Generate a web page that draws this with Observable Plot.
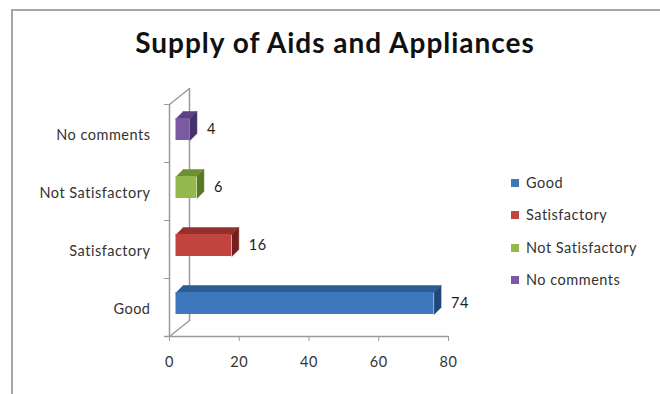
<!DOCTYPE html>
<html>
<head>
<meta charset="utf-8">
<script src="https://cdn.jsdelivr.net/npm/d3@7"></script>
<script src="https://cdn.jsdelivr.net/npm/@observablehq/plot@0.6"></script>
<style>
  html, body { margin: 0; padding: 0; background: #fff; }
  #wrap { position: relative; width: 660px; height: 394px; overflow: hidden; font-family: Lato, "Open Sans", sans-serif; }
  #frame { position: absolute; left: 11px; top: 9px; width: 660px; height: 400px; border-left: 2px solid #a6a6a6; border-top: 2px solid #a6a6a6; }
  #title { position: absolute; left: 0; width: 670px; top: 25px; text-align: center; font-weight: bold; font-size: 28px; letter-spacing: 1px; color: #111; }
  #chart { position: absolute; left: 0; top: 0; }
  #legend { position: absolute; left: 511px; top: 174px; font-size: 14.5px; letter-spacing: 0.5px; color: #333; }
  .item { position: absolute; left: 0; white-space: nowrap; height: 18px; line-height: 18px; }
  .sw { display: inline-block; width: 8px; height: 8px; margin-right: 7px; vertical-align: 1px; }
</style>
</head>
<body>
<div id="wrap">
  <div id="frame"></div>
  <div id="title"></div>
  <div id="chart"></div>
  <div id="legend"></div>
</div>
<script>
const title = "Supply of Aids and Appliances";
const categories = ["Good", "Satisfactory", "Not Satisfactory", "No comments"];
const values = [74, 16, 6, 4];
const frontColors = ["#3F77BD", "#C2443F", "#93B84B", "#7A5AA0"];
const topColors = ["#2C5C93", "#96302D", "#6F8F33", "#5C4282"];
const sideColors = ["#1D4877", "#72201E", "#587826", "#46316A"];
const xTicks = [0, 20, 40, 60, 80];

// layout (pixels)
const W = 660, H = 394;
const mL = 169, mR = 212, mT = 104, mB = 58;
const pxPerX = (W - mL - mR) / 80;
const pxPerY = (H - mT - mB) / categories.length;
const toX = px => px / pxPerX;
const toY = px => px / pxPerY;
const barStart = toX(6.5), depthX = toX(7), depthY = toY(7);
const barHalf = toY(11), barShift = toY(4);
const wallX = toX(20), wallY = toY(16);

const bars = categories.map((c, i) => {
  const yc = i + 0.5 + barShift;
  return {c, i, v: values[i], x1: barStart, x2: barStart + values[i], y1: yc - barHalf, y2: yc + barHalf, yc};
});

const topFaces = bars.flatMap(b => [
  {id: b.c, x: b.x1, y: b.y2}, {id: b.c, x: b.x2, y: b.y2},
  {id: b.c, x: b.x2 + depthX, y: b.y2 + depthY}, {id: b.c, x: b.x1 + depthX, y: b.y2 + depthY}
]);
const sideFaces = bars.flatMap(b => [
  {id: b.c, x: b.x2, y: b.y2}, {id: b.c, x: b.x2 + depthX, y: b.y2 + depthY},
  {id: b.c, x: b.x2 + depthX, y: b.y1 + depthY}, {id: b.c, x: b.x2, y: b.y1}
]);
const colorOf = (arr) => d => arr[categories.indexOf(d.id)];

const n = categories.length;
const wall = [
  {id: "top", x: 0, y: n}, {id: "top", x: wallX, y: n + wallY},
  {id: "back", x: wallX, y: n + wallY}, {id: "back", x: wallX, y: wallY},
  {id: "floor", x: wallX, y: wallY}, {id: "floor", x: 0, y: 0}
];

const axisColor = "#9a9a9a";
const plot = Plot.plot({
  width: W, height: H,
  marginLeft: mL, marginRight: mR, marginTop: mT, marginBottom: mB,
  x: {domain: [0, 80]},
  y: {domain: [0, n]},
  style: {fontFamily: "Lato, 'Open Sans', sans-serif", fontSize: "14.5px", letterSpacing: "0.5px", color: "#333", background: "transparent", overflow: "visible"},
  marks: [
    Plot.line(wall, {x: "x", y: "y", z: "id", stroke: axisColor, strokeWidth: 1.5}),
    Plot.ruleX([0], {stroke: axisColor, strokeWidth: 1.5}),
    Plot.ruleY([0], {stroke: axisColor, strokeWidth: 1.5, x1: -1.3, x2: 80}),
    Plot.axisX({ticks: xTicks, tickSize: 5, tickPadding: 15, stroke: axisColor, fill: "#333", label: null}),
    Plot.axisY({ticks: d3.range(0, n + 1), tickSize: 5, tickFormat: () => "", stroke: axisColor, label: null}),
    Plot.axisY({ticks: d3.range(n).map(i => i + 0.5), tickSize: 0, tickPadding: 19, dy: 2,
      tickFormat: d => categories[Math.floor(d)], fill: "#333", label: null}),
    Plot.line(topFaces, {x: "x", y: "y", z: "id", fill: colorOf(topColors), stroke: colorOf(topColors), strokeWidth: 0.5}),
    Plot.line(sideFaces, {x: "x", y: "y", z: "id", fill: colorOf(sideColors), stroke: colorOf(sideColors), strokeWidth: 0.5}),
    Plot.rect(bars, {x1: "x1", x2: "x2", y1: "y1", y2: "y2", fill: (d) => frontColors[d.i]}),
    Plot.text(bars, {x: d => d.x2 + depthX, y: "yc", text: d => String(d.v), textAnchor: "start", dx: 10, fill: "#222", fontSize: 14.5})
  ]
});
document.getElementById("chart").appendChild(plot);
document.getElementById("title").textContent = title;

const legend = document.getElementById("legend");
categories.forEach((c, i) => {
  const it = document.createElement("div");
  it.className = "item";
  it.style.top = (i * 32.3) + "px";
  const sw = document.createElement("span");
  sw.className = "sw";
  sw.style.background = frontColors[i];
  it.appendChild(sw);
  it.appendChild(document.createTextNode(c));
  legend.appendChild(it);
});
</script>
</body>
</html>
